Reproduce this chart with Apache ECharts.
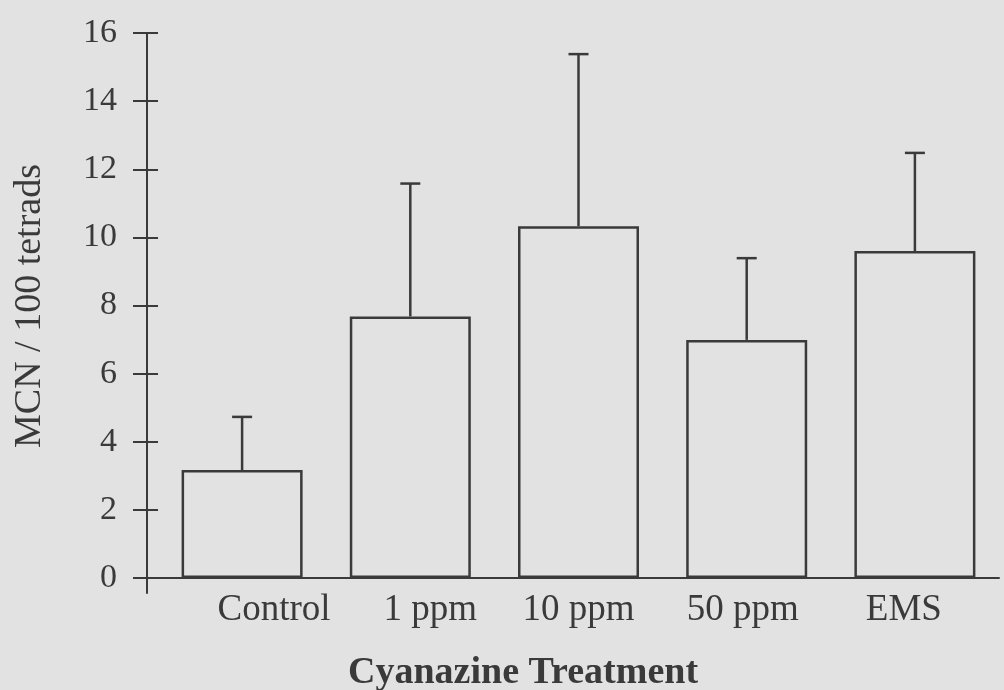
<!DOCTYPE html>
<html>
<head>
<meta charset="utf-8">
<script src="https://cdn.jsdelivr.net/npm/echarts@6/dist/echarts.min.js"></script>
<style>
  html, body { margin: 0; padding: 0; background: #e2e2e2; }
  #chart { width: 1004px; height: 690px; }
</style>
</head>
<body>
<div id="chart"></div>
<script>
// ---- data ----
const categories = ['Control', '1 ppm', '10 ppm', '50 ppm', 'EMS'];
const means = [3.17, 7.68, 10.33, 6.99, 9.6];
const errors = [1.56, 3.9, 5.05, 2.4, 2.88];
const yTicks = [0, 2, 4, 6, 8, 10, 12, 14, 16];
const yTitle = 'MCN / 100 tetrads';
const xTitle = 'Cyanazine Treatment';

// ---- layout (label offsets relative to bar centre, px) ----
const labelShift = [32, 20, 0, -4, -11];

const ink = '#3a3a3a';
const serif = '"Liberation Serif", "Times New Roman", serif';

const rich = {};
labelShift.forEach((dx, i) => {
  rich['s' + i] = {
    fontFamily: serif, fontSize: 37, color: ink,
    padding: dx >= 0 ? [0, 0, 0, 2 * dx] : [0, -2 * dx, 0, 0]
  };
});

const chart = echarts.init(document.getElementById('chart'));
chart.setOption({
  backgroundColor: '#e2e2e2',
  animation: false,
  title: {
    text: xTitle,
    left: 343, top: 649,
    textStyle: { fontFamily: serif, fontWeight: 'bold', fontSize: 38, color: ink }
  },
  grid: { left: 158, right: 5, top: 33, bottom: 97, containLabel: false },
  xAxis: {
    type: 'category',
    data: categories,
    axisLine: { onZero: true, lineStyle: { color: ink, width: 2 } },
    axisTick: { show: false },
    axisLabel: {
      interval: 0, margin: -1,
      formatter: (v, i) => '{s' + i + '|' + v + '}',
      rich: rich
    },
    splitLine: { show: false }
  },
  yAxis: [{
    type: 'value',
    min: -0.44, max: 16,
    offset: 11,
    name: yTitle,
    nameLocation: 'middle',
    nameRotate: 90,
    nameGap: 98,
    nameTextStyle: { fontFamily: serif, fontSize: 38, color: ink, padding: [0, 0, 0, 14] },
    axisLine: { show: true, lineStyle: { color: ink, width: 2 } },
    axisTick: { show: true, length: 14, customValues: yTicks, lineStyle: { color: ink, width: 2 } },
    axisLabel: { customValues: yTicks, margin: 30, fontFamily: serif, fontSize: 34, color: ink },
    splitLine: { show: false }
  }, {
    type: 'value',
    min: -0.44, max: 16,
    position: 'left',
    offset: 11,
    axisLine: { show: false },
    axisTick: { show: true, inside: true, length: 11, customValues: yTicks, lineStyle: { color: ink, width: 2 } },
    axisLabel: { show: false },
    splitLine: { show: false }
  }],
  series: [{
    type: 'bar',
    data: means,
    barWidth: 121,
    itemStyle: { color: 'rgba(0,0,0,0)', borderColor: ink, borderWidth: 2.5 },
    z: 3
  }, {
    type: 'custom',
    data: means.map((m, i) => [i, m, m + errors[i]]),
    renderItem: function (params, api) {
      const lo = api.coord([api.value(0), api.value(1)]);
      const hi = api.coord([api.value(0), api.value(2)]);
      const cap = 10;
      return {
        type: 'group',
        children: [{
          type: 'line',
          shape: { x1: lo[0], y1: lo[1], x2: hi[0], y2: hi[1] },
          style: { stroke: ink, lineWidth: 2.5 }
        }, {
          type: 'line',
          shape: { x1: hi[0] - cap, y1: hi[1], x2: hi[0] + cap, y2: hi[1] },
          style: { stroke: ink, lineWidth: 2.5 }
        }]
      };
    },
    z: 4
  }]
});
</script>
</body>
</html>
